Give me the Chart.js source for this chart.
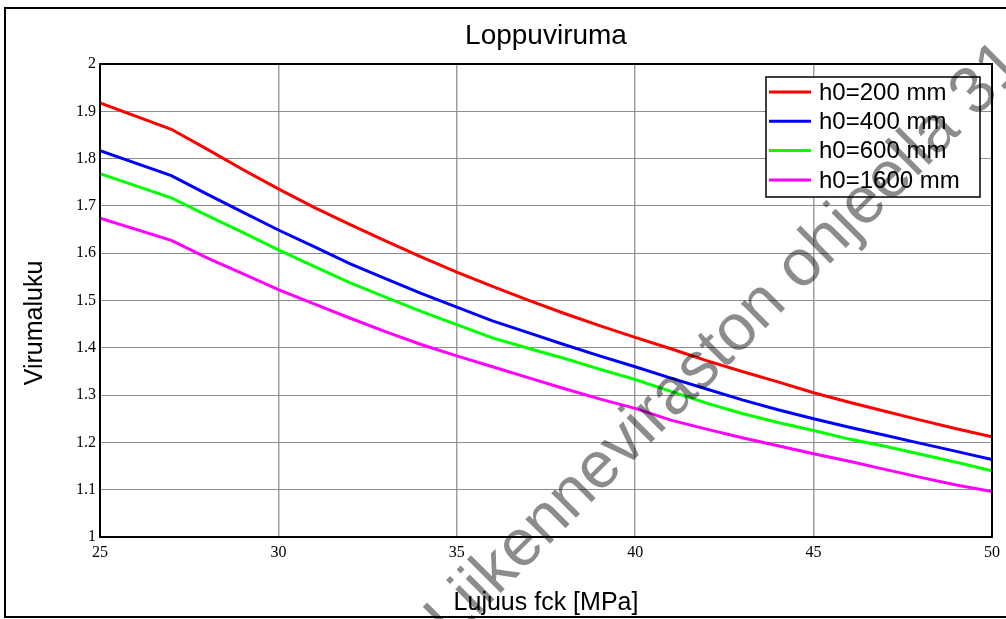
<!DOCTYPE html>
<html>
<head>
<meta charset="utf-8">
<title>Loppuviruma</title>
<script src="https://cdn.jsdelivr.net/npm/chart.js@4/dist/chart.umd.min.js"></script>
<style>
  html, body { margin: 0; padding: 0; background: #fff; }
  #wrap { width: 1006px; height: 619px; }
</style>
</head>
<body>
<div id="wrap"><canvas id="creepChart" width="1006" height="619"></canvas></div>
<script>
// Loppuviruma - creep coefficient as a function of concrete strength

const fck = [25, 27, 28, 29, 30, 31, 32, 33, 34, 35, 36, 37, 38, 39, 40, 41, 42, 43, 44, 45, 46, 47, 48, 49, 50];

const h200 = [1.918, 1.862, 1.820, 1.777, 1.736, 1.697, 1.661, 1.626, 1.592, 1.560, 1.530, 1.501, 1.473,
              1.447, 1.422, 1.398, 1.373, 1.350, 1.328, 1.305, 1.285, 1.266, 1.247, 1.229, 1.212];
const h400 = [1.817, 1.764, 1.725, 1.687, 1.649, 1.614, 1.578, 1.546, 1.515, 1.486, 1.457, 1.432, 1.407,
              1.383, 1.360, 1.336, 1.313, 1.290, 1.269, 1.250, 1.232, 1.215, 1.198, 1.181, 1.164];
const h600 = [1.768, 1.717, 1.680, 1.644, 1.607, 1.572, 1.538, 1.507, 1.477, 1.449, 1.421, 1.399, 1.378,
              1.355, 1.333, 1.308, 1.283, 1.261, 1.242, 1.225, 1.207, 1.192, 1.175, 1.158, 1.140];
const h1600 = [1.674, 1.627, 1.590, 1.557, 1.523, 1.493, 1.463, 1.434, 1.407, 1.383, 1.360, 1.337, 1.314,
               1.292, 1.272, 1.247, 1.228, 1.210, 1.193, 1.176, 1.160, 1.143, 1.126, 1.110, 1.096];

const seriesLabels = ['h0=200 mm', 'h0=400 mm', 'h0=600 mm', 'h0=1600 mm'];
const seriesColors = ['#ff0000', '#0000ff', '#00ff00', '#ff00ff'];

const xTicks = [25, 30, 35, 40, 45, 50];
const yTicks = [1, 1.1, 1.2, 1.3, 1.4, 1.5, 1.6, 1.7, 1.8, 1.9, 2];

const chartTitle = 'Loppuviruma';
const xTitle = 'Lujuus fck [MPa]';
const yTitle = 'Virumaluku';
const watermark = 'Liikenneviraston ohjeella 31';

const SANS = '"Liberation Sans", Arial, sans-serif';
const SERIF = '"Liberation Serif", "Times New Roman", serif';

function toPoints(values) {
  return fck.map((x, i) => ({ x: x, y: values[i] }));
}

const allSeries = [h200, h400, h600, h1600];

const datasets = allSeries.map((vals, i) => ({
  label: seriesLabels[i],
  data: toPoints(vals),
  borderColor: seriesColors[i],
  backgroundColor: seriesColors[i],
  borderWidth: 3,
  pointRadius: 0,
  tension: 0,
  fill: false
}));

// frame, plot border, titles, legend and watermark
const decorations = {
  id: 'decorations',
  beforeDraw(chart) {
    const ctx = chart.ctx;
    ctx.save();
    ctx.fillStyle = '#fff';
    ctx.fillRect(0, 0, chart.width, chart.height);
    ctx.restore();
  },
  afterDatasetsDraw(chart) {
    const ctx = chart.ctx;
    const a = chart.chartArea;
    ctx.save();

    // plot border
    ctx.strokeStyle = '#000';
    ctx.lineWidth = 2;
    ctx.strokeRect(a.left, a.top, a.right - a.left, a.bottom - a.top);

    // outer frame
    ctx.strokeRect(5, 8, 1010, 609);

    // chart title
    ctx.fillStyle = '#000';
    ctx.font = '28px ' + SANS;
    ctx.textAlign = 'center';
    ctx.textBaseline = 'middle';
    ctx.fillText(chartTitle, (a.left + a.right) / 2, 36);

    // y axis title (sits a bit below the plot middle)
    ctx.save();
    ctx.translate(35, 323);
    ctx.rotate(-Math.PI / 2);
    ctx.font = '25px ' + SANS;
    ctx.fillText(yTitle, 0, 0);
    ctx.restore();

    // legend box
    const bx = 766, by = 77, bw = 214, bh = 120;
    ctx.fillStyle = '#fff';
    ctx.fillRect(bx, by, bw, bh);
    ctx.lineWidth = 1.5;
    ctx.strokeStyle = '#000';
    ctx.strokeRect(bx, by, bw, bh);
    ctx.font = '24px ' + SANS;
    ctx.textAlign = 'left';
    chart.data.datasets.forEach((ds, i) => {
      const y = 92 + i * 29.3;
      ctx.strokeStyle = ds.borderColor;
      ctx.lineWidth = 3;
      ctx.beginPath();
      ctx.moveTo(769, y);
      ctx.lineTo(811, y);
      ctx.stroke();
      ctx.fillStyle = '#000';
      ctx.fillText(ds.label, 819, y + 1);
    });
    ctx.restore();
  },
  afterDraw(chart) {
    const ctx = chart.ctx;
    ctx.save();
    ctx.translate(726, 342);
    ctx.rotate(-45 * Math.PI / 180);
    ctx.font = '66px ' + SANS;
    ctx.fillStyle = 'rgba(0, 0, 0, 0.45)';
    ctx.textAlign = 'center';
    ctx.textBaseline = 'middle';
    ctx.fillText(watermark, 0, 0);
    ctx.restore();
  }
};

const ctx = document.getElementById('creepChart').getContext('2d');

new Chart(ctx, {
  type: 'line',
  data: { datasets: datasets },
  options: {
    responsive: false,
    animation: false,
    devicePixelRatio: 1,
    layout: { padding: { top: 64, right: 12, bottom: 0, left: 0 } },
    plugins: {
      legend: { display: false },
      title: { display: false },
      tooltip: { enabled: false }
    },
    scales: {
      x: {
        type: 'linear',
        min: 25,
        max: 50,
        afterBuildTicks: (scale) => { scale.ticks = xTicks.map(v => ({ value: v })); },
        afterFit: (scale) => { scale.height = 82; },
        grid: { color: '#a0a0a0', lineWidth: 1.5, drawTicks: false },
        border: { display: false },
        ticks: {
          color: '#000',
          padding: 6,
          maxRotation: 0,
          font: { family: SERIF, size: 16 }
        },
        title: {
          display: true,
          text: xTitle,
          color: '#000',
          padding: { top: 0, bottom: 1 },
          font: { family: SANS, size: 25 }
        }
      },
      y: {
        type: 'linear',
        min: 1,
        max: 2,
        afterBuildTicks: (scale) => { scale.ticks = yTicks.map(v => ({ value: v })); },
        afterFit: (scale) => { scale.width = 100; },
        grid: { color: '#8c8c8c', lineWidth: 1, drawTicks: false },
        border: { display: false },
        ticks: {
          color: '#000',
          padding: 4,
          font: { family: SERIF, size: 16 },
          callback: (v) => String(Math.round(v * 10) / 10)
        }
      }
    }
  },
  plugins: [decorations]
});
</script>
</body>
</html>
